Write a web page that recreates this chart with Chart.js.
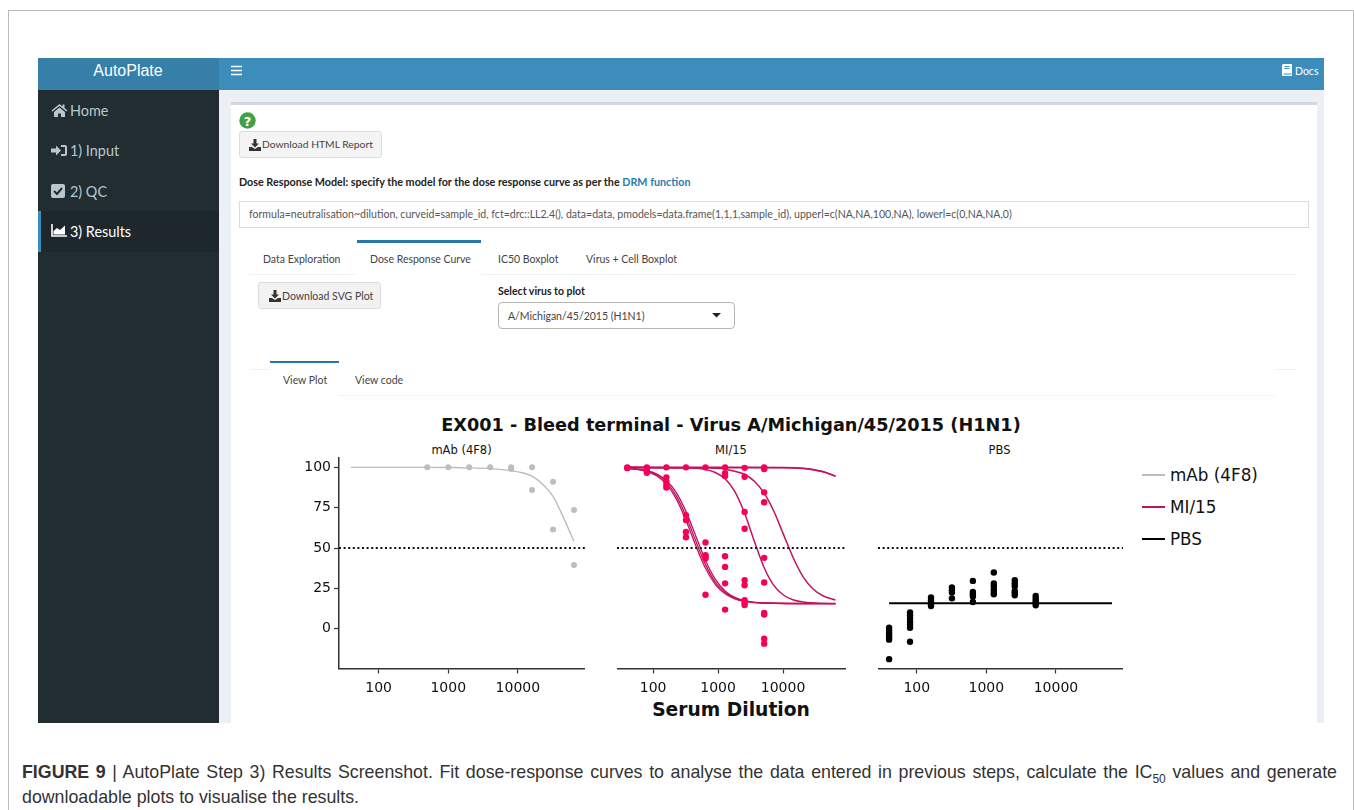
<!DOCTYPE html>
<html>
<head>
<meta charset="utf-8">
<title>AutoPlate</title>
<script src="https://cdn.jsdelivr.net/npm/chart.js@4/dist/chart.umd.min.js"></script>
<style>
  html, body { margin: 0; padding: 0; background: #fff; }
  body { width: 1354px; height: 810px; position: relative; overflow: hidden; font-family: Lato, sans-serif; color: #333; }
  .abs { position: absolute; }
  .t { position: absolute; white-space: nowrap; line-height: 1; transform: translateY(-50%); }
  .side { font-size: 14.4px; color: #b8c7ce; }
  .ui { font-size: 10.5px; color: #444; transform: translateY(calc(-50% - 1px)); }
  .btn { position: absolute; background: #f4f4f4; border: 1px solid #ddd; border-radius: 3px; box-sizing: border-box; }
  .plotText { font-family: "DejaVu Sans", sans-serif; color: #111; }
  svg { position: absolute; }
  canvas { position: absolute; }
</style>
</head>
<body>
<!-- figure frame -->
<div class="abs" style="left:8px;top:10px;width:1345px;height:1px;background:#bbb"></div>
<div class="abs" style="left:8px;top:10px;width:1px;height:800px;background:#bbb"></div>
<div class="abs" style="left:1353px;top:10px;width:1px;height:800px;background:#bbb"></div>

<!-- app shell -->
<div class="abs" style="left:38px;top:58px;width:181px;height:32px;background:#367fa9"></div>
<div class="abs" style="left:219px;top:58px;width:1105px;height:32px;background:#3c8dbc"></div>
<div class="abs" style="left:38px;top:90px;width:181px;height:633px;background:#222d32"></div>
<div class="abs" style="left:38px;top:211px;width:181px;height:41px;background:#1e282c"></div>
<div class="abs" style="left:38px;top:211px;width:3px;height:41px;background:#3c8dbc"></div>
<div class="abs" style="left:219px;top:90px;width:1105px;height:633px;background:#ecf0f5"></div>
<div class="abs" style="left:231px;top:102px;width:1086px;height:621px;background:#fff;border-top:3px solid #d2d6de;box-sizing:border-box"></div>

<div class="t" style="left:128px;top:71px;transform:translate(-50%,-50%);font:16px 'Liberation Sans',sans-serif;color:#fff">AutoPlate</div>
<svg style="left:231px;top:65px" width="11" height="11"><path d="M0 1.5h11M0 5.5h11M0 9.5h11" stroke="#fff" stroke-width="1.7"/></svg>
<svg style="left:1282px;top:64px" width="10" height="12"><path d="M1.5 0h8.5v12h-8.5a1.5 1.5 0 0 1-1.5-1.5v-9a1.5 1.5 0 0 1 1.5-1.5z" fill="#fff"/><path d="M2.500 2.500h5M2.500 4.500h5M1.500 10h8" stroke="#3c8dbc"/></svg>
<div class="t" style="left:1295px;top:71px;font-size:10.5px;color:#fff">Docs</div>

<svg style="left:51px;top:103px" width="17" height="14"><path d="M8.5 1L0.5 7.5l1 1L8.5 3l7 5.5 1-1-3-2.5V1.500h-2V3.500zM3 9v5h4v-3.500h3V14h4V9L8.500 4.500z" fill="#b8c7ce"/></svg>
<div class="t side" style="left:70px;top:111px">Home</div>
<svg style="left:51px;top:144px" width="16" height="13"><path d="M0 4.500h5V1.500l5 5-5 5V8.500H0zM10 1h4a2 2 0 0 1 2 2v7a2 2 0 0 1-2 2h-4v-2h4V3h-4z" fill="#b8c7ce"/></svg>
<div class="t side" style="left:70px;top:151px">1) Input</div>
<svg style="left:51px;top:184px" width="14" height="14"><rect width="14" height="14" rx="2" fill="#b8c7ce"/><path d="M3 7l3 3 5-6" stroke="#222d32" stroke-width="2" fill="none"/></svg>
<div class="t side" style="left:70px;top:192px">2) QC</div>
<svg style="left:51px;top:224px" width="16" height="13"><path d="M1 0v12h15" stroke="#fff" stroke-width="1.600" fill="none"/><path d="M2.500 10.500V7L6 4l3 2 5-4.500v9z" fill="#fff"/></svg>
<div class="t side" style="left:70px;top:232px;color:#fff">3) Results</div>

<!-- box content -->
<svg style="left:239px;top:112px" width="17" height="17"><circle cx="8.500" cy="8.500" r="8.200" fill="#43a047"/><text x="8.500" y="13.500" text-anchor="middle" font-family="DejaVu Sans" font-weight="bold" font-size="13" fill="#fff">?</text></svg>
<div class="btn" style="left:239px;top:131px;width:143px;height:27px"></div>
<svg style="left:249px;top:139px" width="12" height="12"><path d="M4.500 0h3v4.500h2.500L6 8.500 2 4.500h2.500zM0 8h3l3 2 3-2h3v4H0z" fill="#333"/></svg>
<div class="t ui" style="left:262px;top:145px;font-size:10.300px">Download HTML Report</div>
<div class="t ui" style="left:239px;top:182.500px;font-weight:bold;color:#222;font-size:10.750px">Dose Response Model: specify the model for the dose response curve as per the <span style="color:#2c7cb0">DRM function</span></div>
<div class="abs" style="left:239px;top:201px;width:1070px;height:27px;border:1px solid #d8dce2;box-sizing:border-box"></div>
<div class="t ui" style="left:249px;top:215px;color:#555;font-size:10.550px">formula=neutralisation~dilution, curveid=sample_id, fct=drc::LL2.4(), data=data, pmodels=data.frame(1,1,1,sample_id), upperl=c(NA,NA,100,NA), lowerl=c(0,NA,NA,0)</div>

<div class="abs" style="left:249px;top:274px;width:1048px;height:1px;background:#f2f2f2"></div>
<div class="abs" style="left:357px;top:240px;width:124px;height:35px;background:#fff;border-top:3px solid #2a77a5;box-sizing:border-box"></div>
<div class="t ui" style="left:263px;top:259.500px">Data Exploration</div>
<div class="t ui" style="left:370px;top:259.500px">Dose Response Curve</div>
<div class="t ui" style="left:498px;top:259.500px">IC50 Boxplot</div>
<div class="t ui" style="left:586px;top:259.500px">Virus + Cell Boxplot</div>

<div class="btn" style="left:258px;top:282px;width:123px;height:27px;background:#f2f2f2"></div>
<svg style="left:269px;top:290px" width="12" height="12"><path d="M4.500 0h3v4.500h2.500L6 8.500 2 4.500h2.500zM0 8h3l3 2 3-2h3v4H0z" fill="#333"/></svg>
<div class="t ui" style="left:282px;top:297px">Download SVG Plot</div>
<div class="t ui" style="left:498px;top:291.500px;font-weight:bold;color:#222">Select virus to plot</div>
<div class="abs" style="left:498px;top:302px;width:237px;height:27px;border:1px solid #b5b5b5;border-radius:4px;box-sizing:border-box"></div>
<div class="t ui" style="left:508px;top:316.500px">A/Michigan/45/2015 (H1N1)</div>
<svg style="left:712px;top:313px" width="10" height="5"><path d="M0 0h9L4.500 4.500z" fill="#222"/></svg>

<div class="abs" style="left:250px;top:369px;width:20px;height:1px;background:#f2f2f2"></div>
<div class="abs" style="left:1275px;top:369px;width:22px;height:1px;background:#f2f2f2"></div>
<div class="abs" style="left:270px;top:395px;width:1005px;height:1px;background:#f4f4f4"></div>
<div class="abs" style="left:270px;top:361px;width:69px;height:35px;background:#fff;border-top:2px solid #2a77a5;box-sizing:border-box"></div>
<div class="t ui" style="left:283px;top:380.500px">View Plot</div>
<div class="t ui" style="left:355px;top:380.500px">View code</div>

<!-- plot -->
<div class="t plotText" style="left:731px;top:426px;transform:translate(-50%,-50%);font-size:17.700px;font-weight:bold">EX001 - Bleed terminal - Virus A/Michigan/45/2015 (H1N1)</div>
<div class="t plotText" id="panelTitle0" style="left:461.500px;top:451px;transform:translate(-50%,-50%);font-size:11.500px"></div>
<div class="t plotText" id="panelTitle1" style="left:731px;top:451px;transform:translate(-50%,-50%);font-size:11.500px"></div>
<div class="t plotText" id="panelTitle2" style="left:999.500px;top:451px;transform:translate(-50%,-50%);font-size:11.500px"></div>
<div class="t plotText" style="left:731px;top:710px;transform:translate(-50%,-50%);font-size:18.700px;font-weight:bold">Serum Dilution</div>

<canvas id="panel0" style="left:293.500px;top:455px" width="291" height="245"></canvas>
<canvas id="panel1" style="left:616.500px;top:455px" width="229" height="245"></canvas>
<canvas id="panel2" style="left:877.500px;top:455px" width="245" height="245"></canvas>

<div id="legend"></div>

<!-- caption -->
<div class="abs" style="left:22px;top:759.500px;width:1315px;font:17.800px/25.500px 'Liberation Sans',sans-serif;color:#333;text-align:justify">
  <div style="text-align-last:justify"><b>FIGURE 9</b> | AutoPlate Step 3) Results Screenshot. Fit dose-response curves to analyse the data entered in previous steps, calculate the IC<sub style="font-size:12px;line-height:0">50</sub> values and generate</div>
  <div>downloadable plots to visualise the results.</div>
</div>

<script>
const panelNames = ['mAb (4F8)', 'MI/15', 'PBS'];
const lineColours = ['#bdbdbd', '#c2125f', '#000000'];
const pointColours = ['#bdbdbd', '#f50057', '#000000'];
const xTicks = [100, 1000, 10000];
const yTicks = [0, 25, 50, 75, 100];
const cutoffLine = 50;

// x limits of each panel, y limits are shared
const panelXMin = [27, 27.8, 27.7];
const panelXMax = [92000, 93000, 92000];
const yMin = -24.7;
const yMax = 105.8;

// mAb (4F8) points
const mabX = [500, 1000, 2000, 4000, 8000, 8000, 16000, 16000, 32000, 32000, 64000, 64000];
const mabY = [100, 100, 100, 100, 100, 99, 100, 86, 91, 61.5, 73.5, 39.5];
// mAb (4F8) curve
const mabCurveX = [40, 500, 1000, 2000, 4000, 8000, 12000, 16000, 24000, 32000, 45000, 64000];
const mabCurveY = [100, 100, 99.9, 99.7, 99.2, 98, 96.5, 94.5, 88.5, 82, 69, 54];

// MI/15 points
const miX = [40, 40, 80, 80, 80, 80, 160, 160, 160, 160, 160,
  320, 320, 320, 320, 320, 640, 640, 640, 640, 640, 640,
  1280, 1280, 1280, 1280, 1280, 1280, 1280,
  2560, 2560, 2560, 2560, 2560, 2560, 2560, 2560, 2560,
  5120, 5120, 5120, 5120, 5120, 5120, 5120, 5120, 5120, 5120];
const miY = [100, 99.5, 100, 99, 98, 96.7, 100, 93.8, 91, 89, 87.5,
  100, 70.4, 67.3, 60, 56.7, 100, 53.4, 45.5, 44.5, 43.5, 21,
  100, 96.3, 94.6, 44.9, 38.3, 28.1, 11.8,
  99.7, 94.2, 72.4, 61.9, 30, 26.9, 17.6, 16, 14.7,
  100, 99, 84.5, 78.4, 43.9, 28.6, 9.7, 8.7, -6.2, -9.3];
// MI/15 curves
const miFlatX = [40, 2560, 10240, 20480, 28960, 40960, 64000];
const miFlatY = [100, 100, 99.9, 99.4, 98.6, 97.4, 94.6];
const miFlat2Y = [99.7, 99.7, 99.7, 99.3, 98.5, 97.3, 94.5];
const miRightX = [40, 640, 1280, 2560, 3620, 5120, 7240, 10240, 14480, 20480, 28960, 40960, 64000];
const miRightY = [100, 99.7, 98.9, 95.6, 91.4, 84, 72.6, 58, 43.5, 32, 24.6, 20.4, 17.8];
const miMidX = [40, 320, 640, 905, 1280, 1810, 2560, 3620, 5120, 7240, 10240, 14480, 20480, 40960, 64000];
const miMidY = [100, 99.7, 98.6, 96.8, 92.9, 85, 71.6, 54.1, 37.8, 26.7, 20.7, 17.8, 16.5, 15.7, 15.6];
const miLeftX = [40, 80, 113, 160, 226, 320, 453, 640, 905, 1280, 1810, 2560, 5120, 64000];
const miLeftAY = [99.4, 97.4, 94.8, 89.6, 80.6, 67.2, 51.5, 37.4, 27.5, 21.6, 18.5, 16.9, 15.8, 15.5];
const miLeftBY = [99.5, 97.8, 95.4, 90.7, 82.5, 69.9, 54.3, 39.7, 28.9, 22.4, 18.9, 17.1, 15.9, 15.5];
const miLeftCY = [99.6, 98, 96, 91.9, 84.5, 72.7, 57.5, 42.3, 30.7, 23.4, 19.4, 17.4, 15.9, 15.5];

// PBS points
const pbsX = [40, 40, 40, 40, 40, 40, 40, 80, 80, 80, 80, 80, 80, 80,
  160, 160, 160, 160, 160, 320, 320, 320, 320, 640, 640, 640, 640, 640,
  1280, 1280, 1280, 1280, 1280, 1280, 2560, 2560, 2560, 2560, 2560, 2560,
  5120, 5120, 5120, 5120, 5120];
const pbsY = [0.6, -1, -2.7, -4.1, -5.6, -6.8, -18.9, 10.1, 8.3, 6.2, 4.1, 2.5, 0.6, -8.1,
  19.3, 17.6, 16.3, 15.1, 14, 25.5, 23.8, 22.4, 18.8, 29.6, 22.7, 21.3, 20, 16.5,
  34.8, 28, 26.3, 24.2, 22.7, 21.3, 30, 28, 26.3, 23.4, 22.1, 20.7,
  20.3, 18.6, 17.2, 15.9, 14.5];
const pbsCurveX = [40, 64000];
const pbsCurveY = [15.7, 15.7];

function pairs(xs, ys) {
  return xs.map((x, i) => ({ x, y: ys[i] }));
}

function curveDataset(xs, ys, colour, width) {
  return {
    type: 'line',
    data: pairs(xs, ys),
    borderColor: colour,
    borderWidth: width,
    pointRadius: 0,
    cubicInterpolationMode: 'monotone',
    order: 3
  };
}

function pointDataset(xs, ys, colour, radius) {
  return {
    type: 'scatter',
    data: pairs(xs, ys),
    backgroundColor: colour,
    borderWidth: 0,
    pointRadius: radius,
    order: 1
  };
}

function cutoffDataset(index) {
  return {
    type: 'line',
    data: pairs([panelXMin[index], panelXMax[index]], [cutoffLine, cutoffLine]),
    borderColor: '#111',
    borderWidth: 2,
    borderDash: [2, 2.6],
    pointRadius: 0,
    order: 2
  };
}

// tick labels must not shrink the plot area, all panels share the same height
function clearScalePadding(axis) {
  axis.paddingTop = 0;
  axis.paddingBottom = 0;
  axis.paddingLeft = 0;
  axis.paddingRight = 0;
}

function drawPanel(index, datasets) {
  const showY = index === 0;
  new Chart(document.getElementById('panel' + index), {
    type: 'scatter',
    data: { datasets: datasets.concat(cutoffDataset(index)) },
    options: {
      responsive: false,
      animation: false,
      layout: { autoPadding: false, padding: { top: 3 } },
      plugins: { legend: { display: false }, tooltip: { enabled: false }, title: { display: false } },
      scales: {
        x: {
          type: 'logarithmic',
          min: panelXMin[index],
          max: panelXMax[index],
          afterBuildTicks: (axis) => { axis.ticks = xTicks.map((value) => ({ value })); },
          afterFit: (axis) => { axis.height = 31.5; clearScalePadding(axis); },
          border: { color: '#333', width: 1.5 },
          grid: { drawOnChartArea: false, tickLength: 5, tickColor: '#333', tickWidth: 1.2 },
          ticks: {
            autoSkip: false,
            maxRotation: 0,
            padding: 6,
            color: '#111',
            font: { family: 'DejaVu Sans', size: 14 },
            callback: (value) => String(value)
          }
        },
        y: {
          display: showY,
          min: yMin,
          max: yMax,
          afterBuildTicks: (axis) => { axis.ticks = yTicks.map((value) => ({ value })); },
          afterFit: (axis) => { axis.width = showY ? 45 : 0; clearScalePadding(axis); },
          border: { color: '#333', width: 1.5 },
          grid: { drawOnChartArea: false, tickLength: 5, tickColor: '#333', tickWidth: 1.2 },
          ticks: {
            padding: 3,
            color: '#111',
            font: { family: 'DejaVu Sans', size: 14 },
            callback: (value) => String(value)
          }
        }
      }
    }
  });
}

panelNames.forEach((name, i) => {
  document.getElementById('panelTitle' + i).textContent = name;
});

// legend rows follow the panels
const legendTops = [474, 506, 538];
document.getElementById('legend').innerHTML = panelNames.map((name, i) => `
  <div class="abs" style="left:1142px;top:${legendTops[i]}px;width:23px;height:1.5px;background:${lineColours[i]}"></div>
  <div class="t plotText" style="left:1170px;top:${legendTops[i] + 1}px;font-size:16.800px">${name}</div>`).join('');

drawPanel(0, [
  curveDataset(mabCurveX, mabCurveY, lineColours[0], 1.4),
  pointDataset(mabX, mabY, pointColours[0], 3)
]);

drawPanel(1, [
  curveDataset(miFlatX, miFlatY, lineColours[1], 1.5),
  curveDataset(miFlatX, miFlat2Y, lineColours[1], 1.5),
  curveDataset(miRightX, miRightY, lineColours[1], 1.5),
  curveDataset(miMidX, miMidY, lineColours[1], 1.5),
  curveDataset(miLeftX, miLeftAY, lineColours[1], 1.3),
  curveDataset(miLeftX, miLeftBY, lineColours[1], 1.3),
  curveDataset(miLeftX, miLeftCY, lineColours[1], 1.3),
  pointDataset(miX, miY, pointColours[1], 3.2)
]);

drawPanel(2, [
  curveDataset(pbsCurveX, pbsCurveY, lineColours[2], 2),
  pointDataset(pbsX, pbsY, pointColours[2], 3.2)
]);
</script>
</body>
</html>
